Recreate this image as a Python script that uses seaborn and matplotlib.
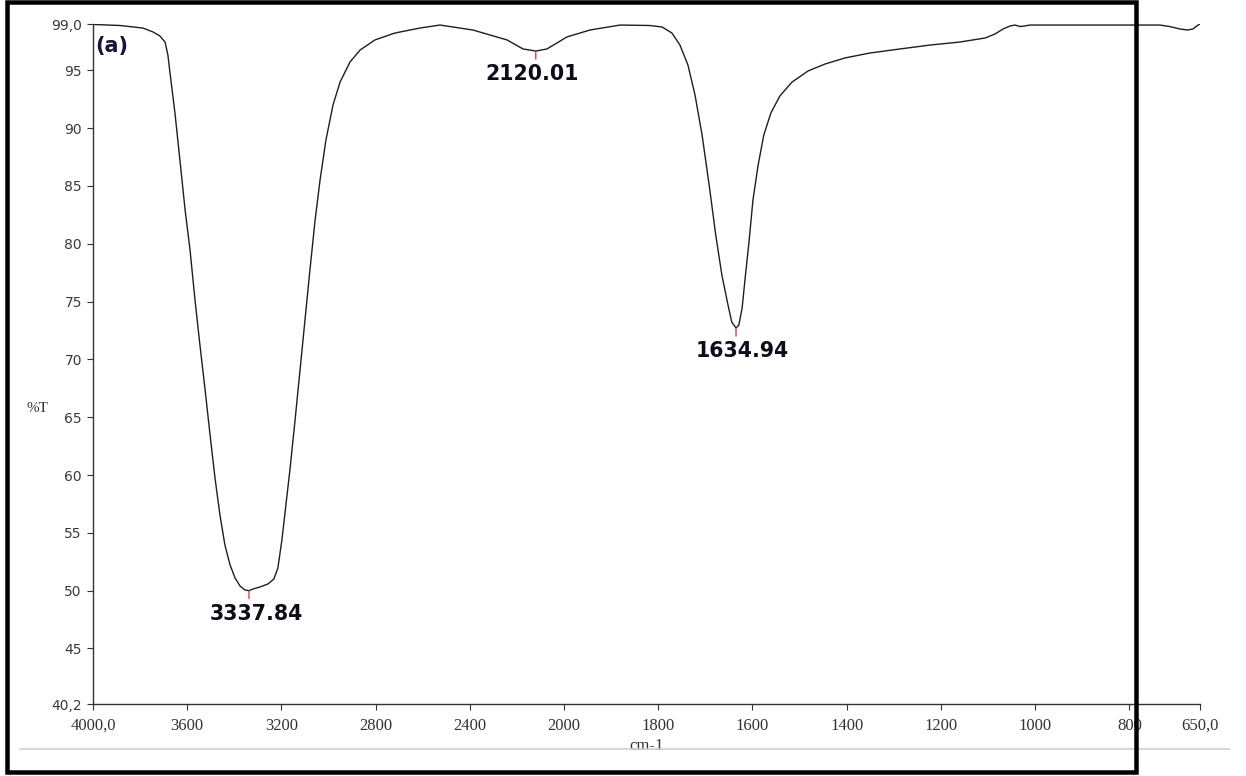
import numpy as np
import pandas as pd
import matplotlib
matplotlib.use("Agg")
import matplotlib.pyplot as plt
import seaborn as sns
from matplotlib.patches import Rectangle
from matplotlib.lines import Line2D

# FTIR spectrum: wavenumber (cm-1) and transmittance (%T)
wavenumber = [4000, 3885, 3788, 3745, 3716, 3694, 3682, 3673, 3652, 3631, 3609,
              3588, 3567, 3546, 3524, 3503, 3482, 3461, 3440, 3418, 3397, 3376,
              3355, 3337.84, 3321, 3291, 3257, 3232, 3215, 3198, 3181, 3164, 3142,
              3121, 3100, 3079, 3057, 3036, 3011, 2981, 2951, 2909, 2866, 2803,
              2718, 2612, 2527, 2387, 2242, 2174, 2120.01, 2073, 2030, 1994, 1945,
              1881, 1818, 1792, 1771, 1754, 1737, 1722, 1707, 1692, 1678, 1665,
              1652, 1644, 1634.94, 1629, 1622, 1616, 1607, 1599, 1588, 1576, 1561,
              1542, 1516, 1482, 1446, 1404, 1351, 1287, 1223, 1160, 1106, 1085,
              1068, 1053, 1043, 1032, 1022, 1011, 905, 735, 714, 693, 676, 665,
              661, 654, 650]
transmittance = [98.96, 98.87, 98.65, 98.31, 97.96, 97.44, 96.32, 94.76, 91.30,
                 87.24, 82.92, 79.46, 75.14, 71.24, 67.35, 63.46, 59.74, 56.54,
                 53.95, 52.22, 51.10, 50.41, 50.06, 50.00, 50.14, 50.32, 50.58,
                 51.01, 51.96, 54.38, 57.41, 60.43, 64.76, 69.08, 73.40, 77.73,
                 82.05, 85.51, 88.97, 92.00, 93.98, 95.71, 96.75, 97.62, 98.22,
                 98.65, 98.91, 98.48, 97.62, 96.84, 96.66, 96.84, 97.36, 97.88,
                 98.48, 98.91, 98.87, 98.74, 98.22, 97.18, 95.45, 92.86, 89.40,
                 85.08, 80.75, 77.30, 74.70, 73.23, 72.71, 72.97, 74.44, 76.86,
                 80.32, 83.78, 86.81, 89.40, 91.30, 92.77, 93.98, 94.94, 95.54,
                 96.06, 96.49, 96.84, 97.18, 97.44, 97.79, 98.14, 98.57, 98.83,
                 98.91, 98.78, 98.83, 98.91, 98.91, 98.91, 98.78, 98.57, 98.48,
                 98.57, 98.70, 98.91, 99.0]

# Labelled absorption bands
peak_wn = [3337.84, 2120.01, 1634.94]
peak_T = [50.00, 96.66, 72.71]
peak_dx = [7, -4, 6]  # horizontal nudge of each label, pixels

# Axis ticks
x_ticks = [4000, 3600, 3200, 2800, 2400, 2000, 1800, 1600, 1400, 1200, 1000, 800, 650]
x_tick_labels = ["4000,0", "3600", "3200", "2800", "2400", "2000", "1800", "1600",
                 "1400", "1200", "1000", "800", "650,0"]
y_ticks = [99.0, 95, 90, 85, 80, 75, 70, 65, 60, 55, 50, 45, 40.2]
y_tick_labels = ["99,0", "95", "90", "85", "80", "75", "70", "65", "60", "55",
                 "50", "45", "40,2"]

sns.set_theme(style="white")
plt.rcParams['font.family'] = ['DejaVu Sans']

W, H = 1246, 776
fig = plt.figure(figsize=(W / 100, H / 100), dpi=100)
ax = fig.add_axes([93 / W, 72 / H, 1107 / W, 680 / H])


# Instrument-style abscissa: scale doubles below 2000 cm-1
def fwd(x):
    x = np.asarray(x, dtype=float)
    return np.where(x >= 2000, x, 2 * x - 2000)


def inv(t):
    t = np.asarray(t, dtype=float)
    return np.where(t >= 2000, t, (t + 2000) / 2)


ax.set_xscale('function', functions=(fwd, inv))

df = pd.DataFrame({"wn": wavenumber, "T": transmittance})
sns.lineplot(data=df, x="wn", y="T", ax=ax, color="#1e1e1e", linewidth=1.0,
             estimator=None, sort=False)

ax.set_xlim(4000, 650)
ax.set_ylim(40.2, 99.0)

for s in ("top", "right"):
    ax.spines[s].set_visible(False)
for s in ("left", "bottom"):
    ax.spines[s].set_color("#333333")
    ax.spines[s].set_linewidth(1.0)

ax.tick_params(axis="both", which="major", direction="out", length=4, width=0.8,
               color="#333333", bottom=True, left=True)
ax.tick_params(axis="x", pad=6)
ax.tick_params(axis="y", pad=4)
ax.minorticks_off()
ax.set_xticks(x_ticks, labels=x_tick_labels, fontfamily="Liberation Serif",
              fontsize=12, color="#333333")
ax.set_yticks(y_ticks, labels=y_tick_labels, fontfamily="DejaVu Sans",
              fontsize=10, color="#3a3a3a")
ax.minorticks_off()

ax.set_xlabel("cm-1", fontfamily="Liberation Serif", fontsize=12, color="#333333")
ax.xaxis.set_label_coords(0.5, -0.05)
ax.set_ylabel("%T", fontfamily="Liberation Serif", fontsize=11, color="#333333",
              rotation=0, ha="center", va="center")
ax.yaxis.set_label_coords(-0.0506, 0.435)

ax.text(0.002, 0.982, "(a)", transform=ax.transAxes, ha="left", va="top",
        fontsize=15, fontweight="bold", color="#15153a")

for p, t, dx in zip(peak_wn, peak_T, peak_dx):
    ax.annotate("", xy=(p, t), xytext=(0, -8), textcoords="offset pixels",
                arrowprops=dict(arrowstyle="-", color="#e8282b", lw=0.9,
                                shrinkA=0, shrinkB=0))
    ax.annotate(f"{p:.2f}", xy=(p, t), xytext=(dx, -13), textcoords="offset pixels",
                ha="center", va="top", fontsize=14.8, fontweight="bold",
                color="#0d0d1a")

# Light rule under the axis title and the surrounding border
fig.add_artist(Line2D([20 / W, 1230 / W], [1 - 749 / H, 1 - 749 / H],
                      transform=fig.transFigure, color="#d0d0d0", lw=1.2))
fig.add_artist(Rectangle((6.7 / W, 1 - 771.5 / H), (1135.5 - 6.7) / W,
                         (771.5 - 2) / H, transform=fig.transFigure, fill=False,
                         edgecolor="black", lw=3.24, zorder=10))

fig.savefig("out.png", dpi=100)
